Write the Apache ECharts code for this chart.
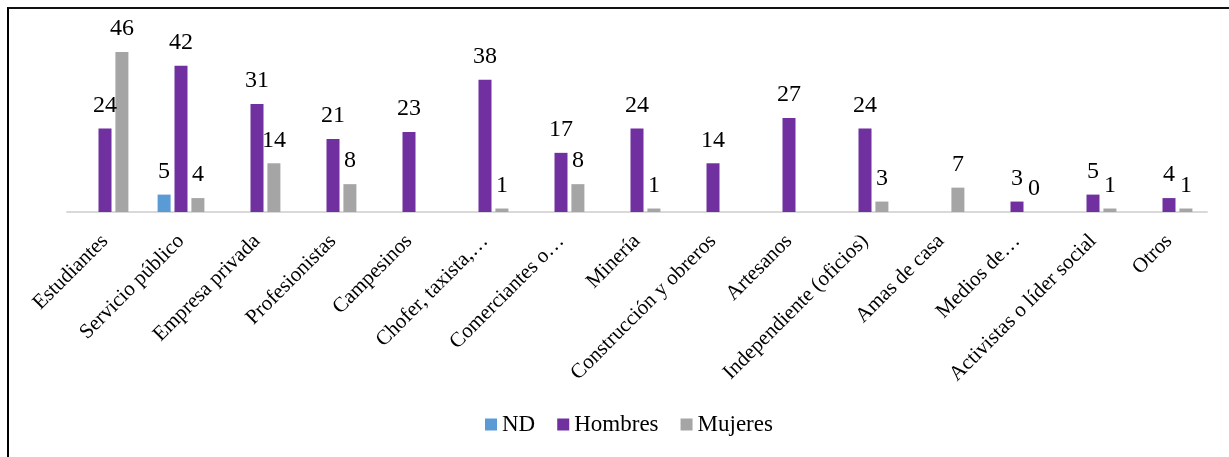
<!DOCTYPE html>
<html>
<head>
<meta charset="utf-8">
<script src="https://cdn.jsdelivr.net/npm/echarts@6/dist/echarts.min.js"></script>
<style>
  html, body { margin: 0; padding: 0; background: #fff; }
  #wrap { position: relative; width: 1229px; height: 457px; overflow: hidden; }
  #chart { position: absolute; left: 0; top: 0; width: 1229px; height: 457px; }
  #frame { position: absolute; left: 7px; top: 7px; width: 1300px; height: 500px;
           border-left: 2px solid #000; border-top: 2px solid #111; pointer-events: none; }
</style>
</head>
<body>
<div id="wrap">
  <div id="chart"></div>
  <div id="frame"></div>
</div>
<script>
const categories = ["Estudiantes", "Servicio público", "Empresa privada", "Profesionistas", "Campesinos",
  "Chofer, taxista,…", "Comerciantes o…", "Minería", "Construcción y obreros", "Artesanos",
  "Independiente (oficios)", "Amas de casa", "Medios de…", "Activistas o líder social", "Otros"];
const seriesNames = ["ND", "Hombres", "Mujeres"];
const ndValues      = [null, 5, null, null, null, null, null, null, null, null, null, null, null, null, null];
const hombresValues = [24, 42, 31, 21, 23, 38, 17, 24, 14, 27, 24, null, 3, 5, 4];
const mujeresValues = [46, 4, 14, 8, null, 1, 8, 1, null, null, 3, 7, 0, 1, 1];

const FONT = "Liberation Serif";
const colors = ['#5B9BD5', '#7030A0', '#A5A5A5'];

function barSeries(name, data, color) {
  return {
    name: name,
    type: 'bar',
    data: data,
    barWidth: 13,
    barGap: '30%',
    itemStyle: { color: color },
    label: {
      show: true,
      position: 'top',
      distance: 11,
      color: '#000',
      fontFamily: FONT,
      fontSize: 24
    }
  };
}

const chart = echarts.init(document.getElementById('chart'), null, { renderer: 'canvas' });
chart.setOption({
  animation: false,
  backgroundColor: '#fff',
  textStyle: { fontFamily: FONT },
  grid: { left: 67, right: 22, top: 38, bottom: 245, containLabel: false },
  legend: {
    data: seriesNames,
    left: 480,
    top: 408,
    itemWidth: 12,
    itemHeight: 12,
    itemGap: 22,
    icon: 'rect',
    textStyle: { fontFamily: FONT, fontSize: 23, color: '#000' }
  },
  xAxis: {
    type: 'category',
    data: categories,
    axisTick: { show: false },
    axisLine: { lineStyle: { color: '#D9D9D9', width: 2 } },
    axisLabel: {
      interval: 0,
      rotate: 45,
      margin: 26,
      fontFamily: FONT,
      fontSize: 21,
      color: '#000'
    }
  },
  yAxis: {
    type: 'value',
    min: 0,
    max: 50,
    interval: 10,
    show: false,
    splitLine: { show: false }
  },
  series: [
    barSeries(seriesNames[0], ndValues, colors[0]),
    barSeries(seriesNames[1], hombresValues, colors[1]),
    barSeries(seriesNames[2], mujeresValues, colors[2])
  ]
});
</script>
</body>
</html>
